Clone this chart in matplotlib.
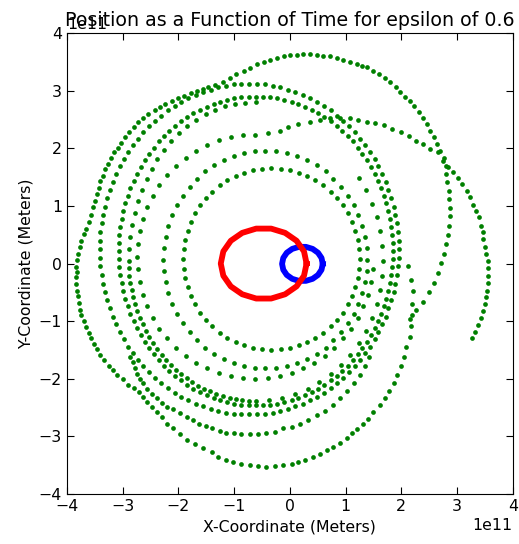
import numpy as np
import matplotlib
matplotlib.use('Agg')
import matplotlib.pyplot as plt

# positions in units of 1e11 m

outer = [(3.27,-1.29),(3.32,-1.18),(3.38,-1.06),(3.43,-0.95),(3.47,-0.83),(3.50,-0.70),(3.52,-0.58),
         (3.53,-0.47),(3.55,-0.34),(3.55,-0.21),(3.55,-0.08),(3.55,0.05),(3.52,0.17),(3.50,0.28),
         (3.47,0.42),(3.46,0.54),(3.43,0.66),(3.39,0.80),(3.34,0.91),(3.29,1.02),(3.23,1.15),
         (3.17,1.26),(3.08,1.38),(3.01,1.49),(2.93,1.59),(2.84,1.68),(2.75,1.78),(2.69,1.95),
         (2.64,2.07),(2.58,2.20),(2.51,2.30),(2.46,2.42),(2.39,2.53),(2.31,2.64),(2.23,2.74),
         (2.15,2.82),(2.06,2.90),(1.97,2.98),(1.90,3.07),(1.79,3.16),(1.70,3.22),(1.60,3.29),
         (1.50,3.34),(1.39,3.41),(1.30,3.43),(1.20,3.47),(1.08,3.50),(0.96,3.54),(0.84,3.57),
         (0.72,3.60),(0.60,3.61),(0.48,3.62),(0.36,3.63),(0.24,3.63),(0.12,3.62),(0.00,3.62),
         (-0.11,3.60),(-0.23,3.57),(-0.36,3.53),(-0.47,3.50),(-0.59,3.46),(-0.71,3.40),(-0.83,3.34),
         (-0.96,3.29),(-1.08,3.23),(-1.20,3.16),(-1.34,3.10),(-1.46,3.07),(-1.56,3.03),(-1.66,3.00),
         (-1.78,2.96),(-1.90,2.91),(-2.01,2.87),(-2.12,2.82),(-2.24,2.77),(-2.33,2.71),(-2.42,2.66),
         (-2.54,2.59),(-2.63,2.52),(-2.73,2.45),(-2.80,2.37),(-2.88,2.29),(-2.95,2.20),(-3.03,2.10),
         (-3.09,2.01),(-3.15,1.93),(-3.21,1.83),(-3.27,1.73),(-3.31,1.64),(-3.35,1.52),(-3.41,1.43),
         (-3.43,1.32),(-3.46,1.21),(-3.49,1.09),(-3.53,0.98),(-3.57,0.85),(-3.61,0.72),(-3.66,0.60),
         (-3.70,0.51),(-3.74,0.40),(-3.77,0.28),(-3.80,0.17),(-3.82,0.06),(-3.83,-0.06),(-3.82,-0.15),
         (-3.83,-0.24),(-3.83,-0.35),(-3.82,-0.47),(-3.80,-0.57),(-3.79,-0.69),(-3.77,-0.80),
         (-3.74,-0.90),(-3.70,-1.00),(-3.66,-1.10),(-3.61,-1.20),(-3.56,-1.30),(-3.51,-1.40),
         (-3.46,-1.49),(-3.40,-1.59),(-3.33,-1.68),(-3.25,-1.77),(-3.18,-1.85),(-3.10,-1.94),
         (-3.00,-2.01),(-2.91,-2.10),(-2.80,-2.16),(-2.70,-2.23)]

outer_bottom = [(-2.63,-2.32),(-2.56,-2.40),(-2.48,-2.49),(-2.39,-2.57),(-2.30,-2.66),(-2.21,-2.78),
                (-2.09,-2.86),(-1.97,-2.96),(-1.85,-3.06),(-1.70,-3.13),(-1.56,-3.21),(-1.40,-3.28),
                (-1.29,-3.35),(-1.14,-3.41),(-1.02,-3.45),(-0.87,-3.48),(-0.72,-3.50),(-0.57,-3.52),
                (-0.42,-3.53),(-0.27,-3.51),(-0.12,-3.50),(0.03,-3.48),(0.15,-3.44),(0.27,-3.41),
                (0.42,-3.35),(0.54,-3.30),(0.66,-3.24),(0.78,-3.18),(0.90,-3.11),(1.02,-3.02),
                (1.11,-2.95),(1.21,-2.88),(1.32,-2.78),(1.41,-2.69),(1.49,-2.58),(1.61,-2.46),
                (1.70,-2.34),(1.78,-2.22),(1.86,-2.08),(1.92,-1.93),(1.99,-1.78),(2.05,-1.62),
                (2.09,-1.45),(2.15,-1.28),(2.18,-1.08),(2.20,-0.90),(2.20,-0.70),(2.21,-0.48),
                (2.17,-0.28),(2.12,-0.05)]

right_arc = [(2.80,1.69),(2.81,1.55),(2.82,1.42),(2.85,1.26),(2.86,1.12),(2.87,0.97),(2.87,0.82),
             (2.85,0.66),(2.84,0.50),(2.81,0.34),(2.77,0.17),(2.72,0.01),(2.65,-0.17),(2.58,-0.33),
             (2.50,-0.50),(2.39,-0.66),(2.27,-0.81),(2.16,-0.96)]

top_arc = [(-0.40,2.26),(-0.18,2.30),(-0.03,2.37),(0.15,2.43),(0.36,2.46),(0.54,2.49),(0.72,2.52),
           (0.90,2.52),(1.08,2.52),(1.23,2.49),(1.38,2.46),(1.52,2.44),(1.69,2.40),(1.84,2.33),
           (1.99,2.29),(2.14,2.22),(2.26,2.13),(2.39,2.07),(2.52,1.99),(2.66,1.93),(2.76,1.83)]

bottom_arc = [(-2.86,-1.62),(-2.82,-1.71),(-2.78,-1.81),(-2.74,-1.91),(-2.69,-2.00),(-2.63,-2.08),
              (-2.56,-2.17),(-2.48,-2.26),(-2.39,-2.34),(-2.30,-2.42),(-2.20,-2.49),(-2.09,-2.53),
              (-1.97,-2.60),(-1.85,-2.66),(-1.73,-2.72),(-1.63,-2.78),(-1.51,-2.82),(-1.39,-2.86),
              (-1.26,-2.90),(-1.14,-2.94),(-1.00,-2.95),(-0.87,-2.96),(-0.72,-2.96),(-0.57,-2.96),
              (-0.42,-2.95),(-0.27,-2.92),(-0.12,-2.86),(0.03,-2.83),(0.18,-2.79),(0.33,-2.72),
              (0.48,-2.63),(0.63,-2.56),(0.77,-2.46),(0.90,-2.34),(1.03,-2.22),(1.15,-2.08),
              (1.26,-1.94),(1.35,-1.78),(1.42,-1.62)]

ring_a = [(1.95,0.25),(1.94,0.55),(1.89,0.85),(1.82,1.14),(1.72,1.42),(1.59,1.69),(1.44,1.94),
          (1.26,2.17),(1.06,2.38),(0.85,2.57),(0.61,2.74),(0.36,2.87),(0.10,2.98),(-0.17,3.06),
          (-0.45,3.11),(-0.73,3.12),(-1.01,3.11),(-1.29,3.06),(-1.56,2.98),(-1.82,2.87),(-2.07,2.74),
          (-2.31,2.57),(-2.52,2.38),(-2.72,2.17),(-2.90,1.94),(-3.05,1.69),(-3.18,1.42),(-3.28,1.14),
          (-3.35,0.85),(-3.40,0.55),(-3.41,0.25),(-3.40,-0.05),(-3.35,-0.35),(-3.28,-0.64),
          (-3.18,-0.92),(-3.05,-1.19),(-2.90,-1.44),(-2.72,-1.67),(-2.52,-1.88),(-2.31,-2.07),
          (-2.07,-2.24),(-1.82,-2.37),(-1.56,-2.48),(-1.29,-2.56),(-1.01,-2.61),(-0.73,-2.62),
          (-0.45,-2.61),(-0.17,-2.56),(0.10,-2.48),(0.36,-2.37),(0.61,-2.24),(0.85,-2.07),
          (1.06,-1.88),(1.26,-1.67),(1.44,-1.44),(1.59,-1.19),(1.72,-0.92),(1.82,-0.64),(1.89,-0.35),
          (1.94,-0.05),
          (1.95,0.40),(1.92,0.70),(1.86,0.99),(1.77,1.28),(1.66,1.55),(1.52,1.81),(1.35,2.06),
          (1.17,2.28),(0.96,2.48),(0.73,2.66),(0.49,2.81),(0.23,2.93),(-0.04,3.02),(-0.31,3.09),
          (-0.59,3.12),(-0.87,3.12),(-1.15,3.09),(-1.42,3.02),(-1.69,2.93),(-1.95,2.81),(-2.19,2.66),
          (-2.42,2.48),(-2.63,2.28),(-2.81,2.06),(-2.98,1.81),(-3.12,1.55),(-3.23,1.28),(-3.32,0.99),
          (-3.38,0.70),(-3.41,0.40),(-3.41,0.10),(-3.38,-0.20),(-3.32,-0.49),(-3.23,-0.78),
          (-3.12,-1.05),(-2.98,-1.31),(-2.81,-1.56),(-2.63,-1.78),(-2.42,-1.98),(-2.19,-2.16),
          (-1.95,-2.31),(-1.69,-2.43),(-1.42,-2.52),(-1.15,-2.59),(-0.87,-2.62),(-0.59,-2.62),
          (-0.31,-2.59),(-0.04,-2.52),(0.23,-2.43),(0.49,-2.31),(0.73,-2.16),(0.96,-1.98),
          (1.17,-1.78),(1.35,-1.56),(1.52,-1.31),(1.66,-1.05),(1.77,-0.78),(1.86,-0.49),(1.92,-0.20),
          (1.95,0.10)]

ring_b = [(1.85,0.22),(1.84,0.50),(1.80,0.78),(1.73,1.05),(1.64,1.31),(1.52,1.56),(1.38,1.80),
          (1.22,2.01),(1.04,2.21),(0.84,2.39),(0.62,2.54),(0.39,2.67),(0.15,2.77),(-0.10,2.84),
          (-0.35,2.89),(-0.61,2.90),(-0.87,2.89),(-1.12,2.84),(-1.37,2.77),(-1.61,2.67),(-1.84,2.54),
          (-2.06,2.39),(-2.26,2.21),(-2.44,2.01),(-2.60,1.80),(-2.74,1.56),(-2.86,1.31),(-2.95,1.05),
          (-3.02,0.78),(-3.06,0.50),(-3.07,0.22),(-3.06,-0.06),(-3.02,-0.34),(-2.95,-0.61),
          (-2.86,-0.87),(-2.74,-1.12),(-2.60,-1.36),(-2.44,-1.57),(-2.26,-1.77),(-2.06,-1.95),
          (-1.84,-2.10),(-1.61,-2.23),(-1.37,-2.33),(-1.12,-2.40),(-0.87,-2.45),(-0.61,-2.46),
          (-0.35,-2.45),(-0.10,-2.40),(0.15,-2.33),(0.39,-2.23),(0.62,-2.10),(0.84,-1.95),
          (1.04,-1.77),(1.22,-1.57),(1.38,-1.36),(1.52,-1.12),(1.64,-0.87),(1.73,-0.61),(1.80,-0.34),
          (1.84,-0.06),
          (1.85,0.36),(1.82,0.64),(1.77,0.91),(1.69,1.18),(1.58,1.44),(1.45,1.68),(1.30,1.91),
          (1.13,2.12),(0.94,2.30),(0.73,2.47),(0.51,2.61),(0.27,2.72),(0.03,2.81),(-0.23,2.87),
          (-0.48,2.90),(-0.74,2.90),(-1.00,2.87),(-1.25,2.81),(-1.49,2.72),(-1.73,2.61),(-1.95,2.47),
          (-2.16,2.30),(-2.35,2.12),(-2.52,1.91),(-2.67,1.68),(-2.80,1.44),(-2.91,1.18),(-2.99,0.91),
          (-3.04,0.64),(-3.07,0.36),(-3.07,0.08),(-3.04,-0.20),(-2.99,-0.47),(-2.91,-0.74),
          (-2.80,-1.00),(-2.67,-1.24),(-2.52,-1.47),(-2.35,-1.68),(-2.16,-1.86),(-1.95,-2.03),
          (-1.73,-2.17),(-1.49,-2.28),(-1.25,-2.37),(-1.00,-2.43),(-0.74,-2.46),(-0.48,-2.46),
          (-0.23,-2.43),(0.03,-2.37),(0.27,-2.28),(0.51,-2.17),(0.73,-2.03),(0.94,-1.86),
          (1.13,-1.68),(1.30,-1.47),(1.45,-1.24),(1.58,-1.00),(1.69,-0.74),(1.77,-0.47),(1.82,-0.20),
          (1.85,0.08)]

ring_c = [(1.67,0.05),(1.66,0.31),(1.62,0.56),(1.56,0.80),(1.47,1.04),(1.36,1.27),(1.24,1.48),
          (-0.61,2.80),(-0.80,2.79),(-0.98,2.77),(-1.16,2.73),(-1.34,2.67),(-1.51,2.59),(-1.68,2.50),
          (-1.84,2.39),(-1.99,2.27),(-2.13,2.13),(-2.26,1.98),(-2.38,1.82),(-2.48,1.65),(-2.57,1.47),
          (-2.65,1.28),(-2.72,1.08),(-2.78,0.88),(-2.83,0.67),(-2.86,0.46),(-2.88,0.25),(-2.89,0.05),
          (-2.88,-0.21),(-2.84,-0.46),(-2.78,-0.70),(-2.69,-0.94),(-2.58,-1.17),(-2.46,-1.38),
          (-2.30,-1.58),(-2.14,-1.76),(-1.95,-1.92),(-1.75,-2.05),(-1.54,-2.17),(-1.32,-2.26),
          (-1.08,-2.33),(-0.85,-2.37),
          (-2.89,-0.08),(-2.86,-0.33),(-2.81,-0.58),(-2.74,-0.82),(-2.64,-1.05),(-2.52,-1.27),
          (-2.38,-1.48),(-2.22,-1.67),(-2.05,-1.84),(-1.85,-1.99),(-1.65,-2.12),(-1.43,-2.22),
          (-1.20,-2.30),(-0.97,-2.35),(-0.73,-2.38),
          (-0.61,-2.38),(-0.37,-2.37),(-0.14,-2.33),(0.10,-2.26),(0.32,-2.17),(0.53,-2.05),
          (0.73,-1.92),(0.92,-1.76),(1.08,-1.58),(1.24,-1.38),(1.36,-1.17),(1.47,-0.94),(1.56,-0.70),
          (1.62,-0.46),(1.66,-0.21)]

ring_d = [(-0.62,2.24),(-0.84,2.23),(-1.06,2.19),(-1.28,2.14),(-1.48,2.06),(-1.68,1.96),
          (-1.87,1.84),(-2.04,1.70),(-2.20,1.54),(-2.34,1.37),(-2.46,1.18),(-2.56,0.98),(-2.64,0.78),
          (-2.69,0.56),(-2.73,0.34),(-2.74,0.12),(-2.73,-0.10),(-2.69,-0.32),(-2.64,-0.54),
          (-2.56,-0.74),(-2.46,-0.94),(-2.34,-1.13),(-2.20,-1.30),(-2.04,-1.46),(-1.87,-1.60),
          (-1.68,-1.72),(-1.48,-1.82),(-1.28,-1.90),(-1.06,-1.95),(-0.84,-1.99),(-0.62,-2.00),
          (-0.40,-1.99),(-0.18,-1.95),(0.04,-1.90),(0.24,-1.82),(0.44,-1.72),(0.63,-1.60),
          (0.80,-1.46),(0.96,-1.30),(1.10,-1.13),(1.22,-0.94),(1.32,-0.74),(1.40,-0.54),(1.45,-0.32),
          (1.49,-0.10)]

ring_e = [(1.39,0.07),(1.38,0.27),(1.35,0.46),(1.30,0.65),(1.23,0.84),(1.15,1.02),(1.04,1.18),
          (0.92,1.33),(0.78,1.47),(0.64,1.60),(0.48,1.71),(0.31,1.80),(0.13,1.87),(-0.06,1.92),
          (-0.25,1.95),(-0.44,1.96),(-0.63,1.95),(-0.82,1.92),(-1.01,1.87),(-1.19,1.80),(-1.36,1.71),
          (-1.52,1.60),(-1.66,1.47),(-1.80,1.33),(-1.92,1.18),(-2.03,1.02),(-2.11,0.84),(-2.18,0.65),
          (-2.23,0.46),(-2.26,0.27),(-2.27,0.07),(-2.26,-0.13),(-2.23,-0.32),(-2.18,-0.51),
          (-2.11,-0.70),(-2.03,-0.88),(-1.92,-1.04),(-1.80,-1.19),(-1.66,-1.33),(-1.52,-1.46),
          (-1.36,-1.57),(-1.19,-1.66),(-1.01,-1.73),(-0.82,-1.78),(-0.63,-1.81),(-0.44,-1.82),
          (-0.25,-1.81),(-0.06,-1.78),(0.13,-1.73),(0.31,-1.66),(0.48,-1.57),(0.64,-1.46),
          (0.78,-1.33),(0.92,-1.19),(1.04,-1.04),(1.15,-0.88),(1.23,-0.70),(1.30,-0.51),(1.35,-0.32),
          (1.38,-0.13)]

ring_f = [(1.25,0.08),(1.24,0.25),(1.22,0.41),(1.17,0.57),(1.11,0.72),(1.04,0.87),(0.95,1.01),
          (0.84,1.14),(0.73,1.25),(0.60,1.36),(0.46,1.45),(0.31,1.52),(0.16,1.58),(0.00,1.62),
          (-0.16,1.65),(-0.33,1.66),(-0.50,1.65),(-0.66,1.62),(-0.82,1.58),(-0.97,1.52),(-1.12,1.45),
          (-1.26,1.36),(-1.39,1.25),(-1.50,1.14),(-1.61,1.01),(-1.70,0.87),(-1.77,0.72),(-1.83,0.57),
          (-1.88,0.41),(-1.90,0.25),(-1.91,0.08),(-1.90,-0.09),(-1.88,-0.25),(-1.83,-0.41),
          (-1.77,-0.56),(-1.70,-0.71),(-1.61,-0.85),(-1.50,-0.98),(-1.39,-1.09),(-1.26,-1.20),
          (-1.12,-1.29),(-0.97,-1.36),(-0.82,-1.42),(-0.66,-1.46),(-0.50,-1.49),(-0.33,-1.50),
          (-0.16,-1.49),(0.00,-1.46),(0.16,-1.42),(0.31,-1.36),(0.46,-1.29),(0.60,-1.20),
          (0.73,-1.09),(0.84,-0.98),(0.95,-0.85),(1.04,-0.71),(1.11,-0.56),(1.17,-0.41),(1.22,-0.25),
          (1.24,-0.09)]

red_star = [(0.30,0.0),(0.254,0.211),(0.120,0.396),(-0.085,0.533),(-0.336,0.607),(-0.604,0.607),
            (-0.855,0.533),(-1.060,0.396),(-1.194,0.211),(-1.24,0.0),(-1.194,-0.211),(-1.060,-0.396),
            (-0.855,-0.533),(-0.604,-0.607),(-0.336,-0.607),(-0.085,-0.533),(0.120,-0.396),
            (0.254,-0.211),(0.30,0.0)]

blue_star = [(0.59,-0.005),(0.568,0.098),(0.505,0.188),(0.408,0.255),(0.288,0.290),(0.162,0.290),
             (0.043,0.255),(-0.055,0.188),(-0.118,0.098),(-0.14,-0.005),(-0.118,-0.108),
             (-0.055,-0.198),(0.043,-0.265),(0.162,-0.300),(0.288,-0.300),(0.408,-0.265),
             (0.505,-0.198),(0.568,-0.108),(0.59,-0.005)]

planet = (outer + outer_bottom + right_arc + top_arc + bottom_arc
          + ring_a + ring_b + ring_c + ring_d + ring_e + ring_f)
scale = 1e11

fig = plt.figure(figsize=(5.19, 5.44), dpi=100)
ax = fig.add_axes([0.129, 0.092, 0.859, 0.847])

px = np.array([p[0] for p in planet]) * scale
py = np.array([p[1] for p in planet]) * scale
ax.plot(px, py, 'o', color=(0, 0.5, 0), markersize=3.4, markeredgewidth=0)

bx = np.array([p[0] for p in blue_star]) * scale
by = np.array([p[1] for p in blue_star]) * scale
ax.plot(bx, by, '-', color='b', lw=4.2)

rx = np.array([p[0] for p in red_star]) * scale
ry = np.array([p[1] for p in red_star]) * scale
ax.plot(rx, ry, '-', color='r', lw=4.2)

ax.set_xlim(-4e11, 4e11)
ax.set_ylim(-4e11, 4e11)
ax.tick_params(direction='in', top=True, right=True, length=5, labelsize=11.3)
ax.xaxis.get_offset_text().set_fontsize(11.3)
ax.yaxis.get_offset_text().set_fontsize(11.3)
ax.set_xlabel('X-Coordinate (Meters)', fontsize=11.3)
ax.set_ylabel('Y-Coordinate (Meters)', fontsize=11.3)
ax.set_title('Position as a Function of Time for epsilon of 0.6', fontsize=13.7, y=1.0, pad=5)

plt.savefig('out.png', dpi=100)
